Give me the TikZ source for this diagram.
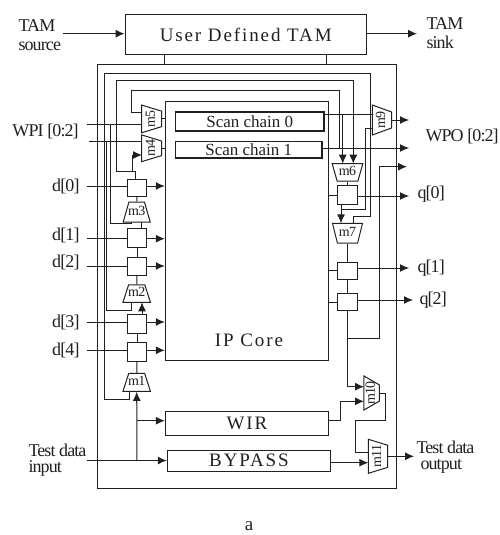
\documentclass[tikz,border=0pt]{standalone}
\usepackage{fontspec}
\setmainfont{Liberation Serif}
\newfontfamily\tightfont[LetterSpace=-5]{Liberation Serif}
\newfontfamily\widefont[LetterSpace=10]{Liberation Serif}
\usetikzlibrary{shapes,arrows.meta}
\definecolor{ink}{HTML}{231F20}
\newcommand{\muxtext}[1]{\makebox[0pt]{#1}}
\tikzset{
  blk/.style={draw, inner sep=0pt, minimum width=#1},
  arr/.style={-{Latex[length=9pt,width=8pt]}},
  sig/.style={font=\fontsize{18}{19}\tightfont, inner sep=0pt},
  bigsig/.style={font=\fontsize{19}{19}\widefont, inner sep=0pt},
  chain/.style={draw, line width=1.4pt, inner sep=0pt, font=\fontsize{17}{17}\selectfont},
  mux/.style n args={3}{draw, shape=trapezium, trapezium stretches body=true, inner sep=0pt,
    trapezium left angle=#1, trapezium right angle=#1, text height=#2, text depth=#3,
    font=\fontsize{14}{14}\tightfont},
  muxr/.style={shape border rotate=180, rotate=90},
}
\begin{document}
\begin{tikzpicture}[x=1pt, y=-1pt, ink, line width=1pt, text=ink]
\useasboundingbox (0,0) rectangle (499,535);
% blocks
\node[blk=241.5pt, minimum height=40pt, bigsig, draw] (tam) at (245.75,34.5) {User Defined TAM};
\node[blk=298.5pt, minimum height=423pt] (frame) at (246.75,276.5) {};
\node[blk=163.4pt, minimum height=259.7pt] (core) at (247,231) {};
\node[bigsig] (corelbl) at (249,340) {IP Core};
\node[blk=163.4pt, minimum height=23.6pt, bigsig, draw] (wir) at (247,423.5) {WIR};
\node[blk=163.4pt, minimum height=21.3pt, bigsig, draw] (bypass) at (249,460.7) {BYPASS};
\node[chain, minimum width=148.5pt, minimum height=19pt] (sc0) at (249.75,121.5) {Scan chain 0};
\node[chain, minimum width=146.5pt, minimum height=16.5pt] (sc1) at (248.75,149.75) {Scan chain 1};
% wrapper cells
\foreach \n/\yb/\h/\yl/\ylbl in {0/187.9/16.8/186/186, 1/237.5/19/238.7/235, 2/266/18/266/262.7, 3/324.2/19/322/322, 4/351.5/19/350.3/350} {
    \node[blk=19pt, minimum height=\h pt] (rd\n) at (137,\yb) {};
    \coordinate (din\n) at (87,\yl);
    \node[sig, anchor=east] (dl\n) at (80,\ylbl) {d[\n]};
    \draw (din\n) -- (din\n -| rd\n.west);
    \draw[arr] (rd\n.east |- din\n) -- (core.west |- din\n);
}
\foreach \n/\yb/\h/\yl/\xe/\xl/\ylbl in {0/195.2/19/196/409/417/194, 1/270.5/17/268/409/417/268, 2/302/17.4/300/413/419/300} {
    \node[blk=20pt, minimum height=\h pt] (rq\n) at (347.5,\yb) {};
    \coordinate (qout\n) at (\xe,\yl);
    \node[sig, anchor=west] (ql\n) at (\xl,\ylbl) {q[\n]};
    \draw (core.east |- rq\n) -- (rq\n.west |- rq\n);
    \draw[arr] (rq\n.east |- qout\n) -- (qout\n);
}
% muxes
\node[mux={74}{13.2pt}{6.8pt}, minimum width=27pt] (m3) at (136.7,212) {\muxtext{m3}};
\node[mux={72}{11.9pt}{5.4pt}, minimum width=27.5pt] (m2) at (136.7,293.6) {\muxtext{m2}};
\node[mux={72}{12.2pt}{5.8pt}, minimum width=27.5pt] (m1) at (136.7,382.3) {\muxtext{m1}};
\node[mux={73}{13.2pt}{6.8pt}, muxr, minimum width=27.7pt] (m5) at (151.7,118.9) {\muxtext{m5}};
\node[mux={73}{13.2pt}{6.8pt}, muxr, minimum width=26.7pt] (m4) at (151.7,148.3) {\muxtext{m4}};
\node[mux={70}{12.9pt}{6.5pt}, muxr, minimum width=30pt] (m9) at (382,120) {\muxtext{m9}};
\node[mux={74}{12pt}{5.5pt}, shape border rotate=180, minimum width=30.7pt] (m6) at (347.5,172.4) {\muxtext{m6}};
\node[mux={76}{13pt}{6.7pt}, shape border rotate=180, minimum width=30pt] (m7) at (347.5,233.2) {\muxtext{m7}};
\node[mux={60}{10.9pt}{4.4pt}, muxr, minimum width=34pt] (m10) at (371.6,393) {\muxtext{m10}};
\node[mux={73}{12.9pt}{6.5pt}, muxr, minimum width=34pt] (m11) at (378,456.3) {\muxtext{m11}};
% tam
\node[sig, anchor=west, align=left] (tamsrc) at (18,35.5) {TAM\\source};
\node[sig, anchor=west, align=left] (tamsnk) at (426,33.5) {TAM\\sink};
\coordinate (srcend) at (63,33.7);
\coordinate (snkend) at (417,33.7);
\coordinate (tamr) at (326,65);
\draw[arr] (srcend) -- (srcend -| tam.west);
\draw[arr] (snkend -| tam.east) -- (snkend);
\draw (core.west |- tam.south) -- (core.west |- frame.north);
\draw (tamr |- tam.south) -- (tamr);
% bus loops
\coordinate (m1in) at (129.3,391.3);
\coordinate (m7in) at (353,223.3);
\coordinate (m6ina) at (342.7,163.7);
\coordinate (m6inb) at (353.3,163.7);
\draw (m1in) -- (129.3,399) -- (104,399) -- (104,73.5) -- (370.5,73.5) -- (370.5,216.7) -- (353,216.7) -- (m7in);
\draw[arr] (135.7,179) -- (135.7,171.3) -- (116.7,171.3) -- (116.7,80) -- (353.3,80) -- (m6inb);
\coordinate (m4in) at (142,155);
\draw[arr] (132,171.3) -- (132,155) -- (m4in);
\coordinate (m5in) at (142,112);
\draw (m5in) -- (131.7,112) -- (131.7,90.5) -- (339,90.5) -- (339,148);
% wpi
\coordinate (wpia) at (87,124.3);
\coordinate (wpib) at (89,141);
\coordinate (m5a) at (142,124.3);
\coordinate (m4a) at (142,141);
\node[sig, anchor=west] (wpi) at (12,131.7) {WPI [0:2]};
\draw (wpia) -- (m5a);
\draw (wpib) -- (m4a);
\draw (110.5,124.3) -- (110.5,223.7) -- (131,223.7) -- (131,222);
\draw (106,141) -- (106,310.3) -- (131.7,310.3) -- (131.7,302.3);
\draw (m5) -- (core.west |- m5);
\draw (m4) -- (core.west |- m4);
% wpo
\coordinate (wpoa) at (409,148);
\coordinate (wpob) at (407,166.7);
\coordinate (m9a) at (372.5,114);
\coordinate (m9b) at (372.5,128.7);
\node[sig, anchor=west] (wpo) at (425,136) {WPO [0:2]};
\draw (sc0.east |- m9a) -- (m9a);
\draw[arr] (m9) -- (m9 -| wpoa);
\draw[arr] (sc1.east |- wpoa) -- (wpoa);
\draw[arr] (342.7,114) -- (m6ina);
% left chain
\draw (rd0) -- (m3);
\draw (141.7,222) -- (141.7,228);
\draw (rd1) -- (rd2);
\draw (rd2) -- (m2);
\draw[arr] (142,314.7) -- (142,302.3);
\draw (rd3) -- (rd4);
\draw (rd4) -- (m1);
% right chain
\draw (m6) -- (rq0);
\draw[arr] (341,204.7) -- (341,223.3);
\draw (341,209) -- (365,209) -- (365,128.7) -- (m9b);
\draw (m7) -- (rq1);
\draw (rq1) -- (rq2);
\draw[arr] (rq2.south) -- (347.5,386.7) -- (364,386.7);
\draw[arr] (347.5,338.3) -- (379,338.3) -- (379,166.7) -- (wpob);
% test data
\coordinate (tdi) at (87,460.5);
\node[sig, anchor=west, align=left] (tdilbl) at (28,460) {Test data\\[-2.5pt]input};
\node[sig, anchor=west, align=left] (tdolbl) at (416,457) {Test data\\[-2.5pt]\hspace*{4pt}output};
\coordinate (tdo) at (414,456.3);
\draw[arr] (tdi) -- (tdi -| bypass.west);
\draw[arr] (137,460.5) -- (m1.south);
\draw[arr] (137,420.7) -- (wir.west |- 137,420.7);
\draw[arr] (wir.east |- 0,420.7) -- (340.7,420.7) -- (340.7,401.3) -- (364,401.3);
\draw (m10) -- (385.3,393) -- (385.3,420.7) -- (355.7,420.7) -- (355.7,452) -- (368.3,452);
\draw[arr] (bypass.east |- 0,462.7) -- (368.3,462.7);
\draw[arr] (m11) -- (tdo);
\node[font=\fontsize{19}{19}\selectfont, inner sep=0pt] (cap) at (249,526) {a};
\end{tikzpicture}
\end{document}
